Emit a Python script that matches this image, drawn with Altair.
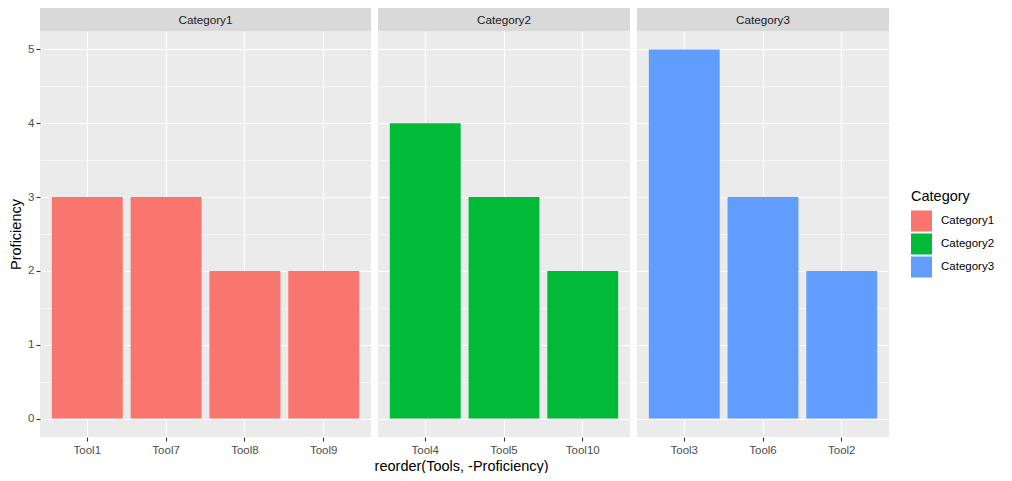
import altair as alt
import pandas as pd

categories = ["Category1", "Category2", "Category3"]
colors = ["#F8766D", "#00BA38", "#619CFF"]

cat1_tools = ["Tool1", "Tool7", "Tool8", "Tool9"]
cat1_prof = [3, 3, 2, 2]
cat2_tools = ["Tool4", "Tool5", "Tool10"]
cat2_prof = [4, 3, 2]
cat3_tools = ["Tool3", "Tool6", "Tool2"]
cat3_prof = [5, 3, 2]

y_breaks = [0, 0.5, 1, 1.5, 2, 2.5, 3, 3.5, 4, 4.5, 5]

FONT = "Arial, Liberation Sans"

groups = [
    ("Category1", cat1_tools, cat1_prof, 331),
    ("Category2", cat2_tools, cat2_prof, 252),
    ("Category3", cat3_tools, cat3_prof, 252),
]

rows = []
for cat, tl, pr, _ in groups:
    for t, p in zip(tl, pr):
        rows.append({"Category": cat, "Tools": t, "Proficiency": p})
df = pd.DataFrame(rows)

PANEL_H = 406
STRIP_H = 23

minor_test = "datum.value % 1 != 0"


def column(cat, tl, w, first):
    src = df[df.Category == cat]
    yaxis = alt.Axis(
        values=y_breaks,
        labelExpr="datum.value % 1 == 0 ? format(datum.value, 'd') : ''",
        title="Proficiency" if first else None,
        labels=first,
        ticks=first,
        domain=False,
        grid=True,
        gridColor="white",
        gridWidth={"condition": {"test": minor_test, "value": 0.55}, "value": 1.1},
        tickOpacity={"condition": {"test": minor_test, "value": 0}, "value": 1},
        tickColor="#333333",
        tickSize=4,
        tickWidth=1.1,
        labelColor="#4D4D4D",
        labelFontSize=11.5,
        labelFont=FONT,
        labelPadding=2,
        titleFont=FONT,
        titleFontSize=14.5,
        titleFontWeight="normal",
        titleColor="black",
        titlePadding=4,
    )
    xaxis = alt.Axis(
        title=None,
        labelAngle=0,
        grid=True,
        gridColor="white",
        gridWidth=1.1,
        domain=False,
        tickColor="#333333",
        tickSize=4,
        tickWidth=1.1,
        labelColor="#4D4D4D",
        labelFontSize=11.5,
        labelFont=FONT,
        labelPadding=3,
        bandPosition=0.5,
    )
    bars = alt.Chart(src).mark_bar().encode(
        x=alt.X("Tools:N", sort=tl,
                scale=alt.Scale(paddingInner=0.1, paddingOuter=0.15),
                axis=xaxis),
        y=alt.Y("Proficiency:Q",
                scale=alt.Scale(domain=[-0.25, 5.25], nice=False, zero=False),
                axis=yaxis),
        y2=alt.datum(0),
        color=alt.Color(
            "Category:N",
            scale=alt.Scale(domain=categories, range=colors),
            legend=alt.Legend(
                title="Category",
                orient="none",
                legendX=871,
                legendY=182,
                symbolType="square",
                symbolSize=441,
                symbolStrokeWidth=0,
                symbolOpacity=1,
                rowPadding=2,
                labelFont=FONT,
                labelFontSize=11.5,
                labelColor="black",
                labelOffset=9,
                titleFont=FONT,
                titleFontSize=14.5,
                titleFontWeight="normal",
                titleColor="black",
                titlePadding=6,
            ),
        ),
    ).properties(width=w, height=PANEL_H)

    strip = alt.Chart(pd.DataFrame({"Category": [cat]})).mark_text(
        font=FONT, fontSize=11.7, color="#1A1A1A", baseline="middle", align="center"
    ).encode(
        text="Category:N",
        x=alt.value(w / 2),
        y=alt.value(STRIP_H / 2),
    ).properties(
        width=w, height=STRIP_H,
        view=alt.ViewBackground(fill="#D9D9D9", strokeWidth=0),
    )
    return alt.vconcat(strip, bars, spacing=0, bounds="flush")


cols = [column(cat, tl, w, i == 0) for i, (cat, tl, pr, w) in enumerate(groups)]

chart = alt.hconcat(*cols, spacing=7).properties(
    padding={"left": 0, "top": 0, "right": 0, "bottom": 0},
    title=alt.TitleParams(
        "reorder(Tools, -Proficiency)",
        orient="bottom",
        anchor="start",
        dx=366,
        offset=4,
        font=FONT,
        fontSize=14.5,
        fontWeight="normal",
        color="black",
    ),
).configure_view(fill="#EBEBEB", strokeWidth=0)

chart.save("out.html", embed_options={"renderer": "svg", "actions": False})
